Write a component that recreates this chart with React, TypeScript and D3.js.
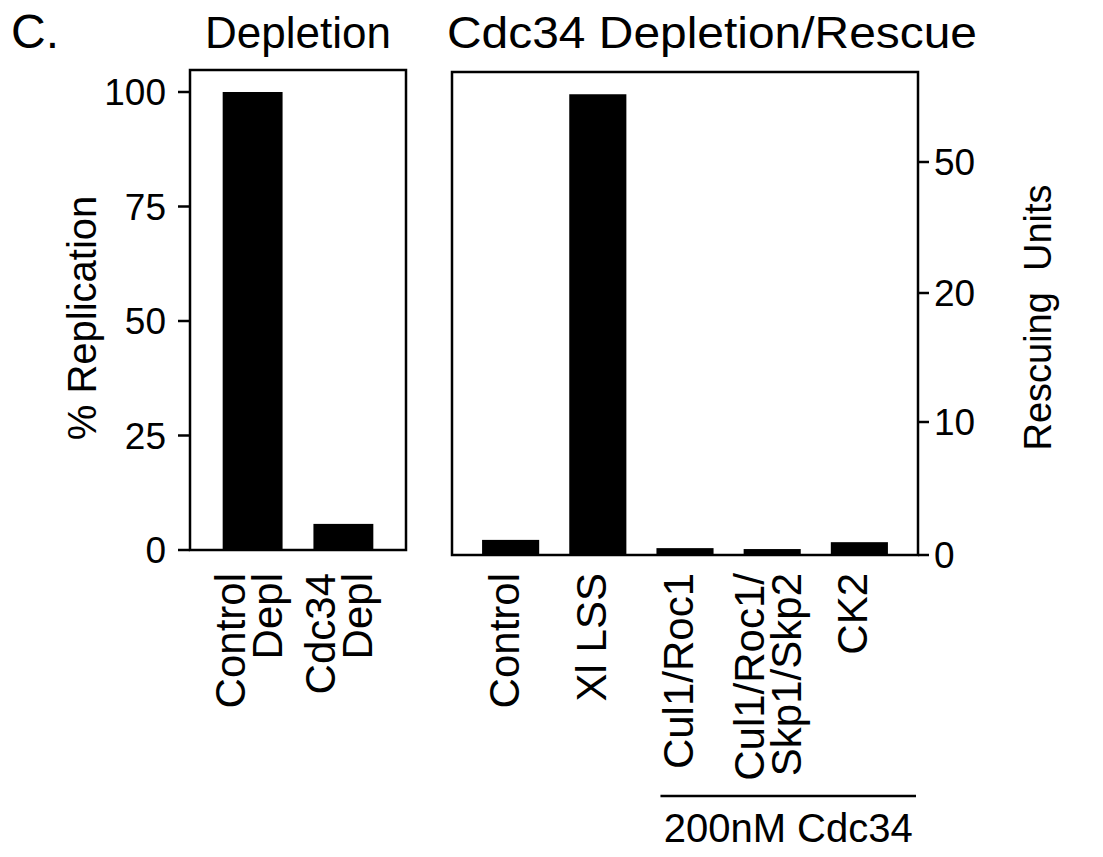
import React from "react";
import * as d3 from "d3";

const leftCategories = ["Control Depl", "Cdc34 Depl"];
const leftLabelLines = [["Control", "Depl"], ["Cdc34", "Depl"]];
const leftValues = [100, 5.7];
const leftTicks = [0, 25, 50, 75, 100];

const rightCategories = ["Control", "Xl LSS", "Cul1/Roc1", "Cul1/Roc1/Skp1/Skp2", "CK2"];
const rightLabelLines = [["Control"], ["Xl LSS"], ["Cul1/Roc1"], ["Cul1/Roc1/", "Skp1/Skp2"], ["CK2"]];
const rightValues = [3.3, 100.6, 1.5, 1.3, 2.8];
const rightTicks = [0, 10, 20, 50];

const FONT = "'Liberation Sans', Arial, Helvetica, sans-serif";

export default function App() {
  const W = 1103, H = 857;
  // left panel
  const L = { x0: 190, x1: 406, y0: 70, y1: 550 };
  const xL = d3.scaleBand<string>().domain(leftCategories).range([L.x0, L.x1]).paddingInner(0.34).paddingOuter(0.36);
  const yL = d3.scaleLinear().domain([0, 100]).range([L.y1, 92]);
  // right panel
  const R = { x0: 452, x1: 918, y0: 72, y1: 555 };
  const xR = d3.scaleBand<string>().domain(rightCategories).range([R.x0, R.x1]).paddingInner(0.345).paddingOuter(0.345);
  const yRbar = d3.scaleLinear().domain([0, 100]).range([R.y1, R.y1 - 458]);
  const yRaxis = d3.scaleLinear().domain([0, 10, 20, 50]).range([R.y1, 422, 293, 162]);

  const labelTop = 573;
  const labelFont = 42;
  const tickFont = 37;

  const renderLabels = (cats: string[], lines: string[][], x: d3.ScaleBand<string>) =>
    cats.map((c, i) => {
      const cx = (x(c) as number) + x.bandwidth() / 2;
      const ls = lines[i];
      const offs = ls.length === 1 ? [8] : [-8, 29];
      return ls.map((t, j) => (
        <text
          key={c + j}
          transform={`translate(${cx + offs[j]},${labelTop}) rotate(-90)`}
          textAnchor="end"
          fontSize={labelFont}
          fontFamily={FONT}
        >
          {t}
        </text>
      ));
    });

  const lineX0 = (xR("Cul1/Roc1") as number) + 4;
  const lineX1 = R.x1 - 2;

  return (
    <svg width={W} height={H} style={{ position: "absolute", left: 0, top: 0, background: "#fff" }}>
      <rect x={0} y={0} width={W} height={H} fill="#fff" />
      <text x={11} y={48} fontSize={48} fontFamily={FONT}>C.</text>
      <text x={(L.x0 + L.x1) / 2} y={48} textAnchor="middle" fontSize={44} fontFamily={FONT}>Depletion</text>
      <text x={447} y={48} textLength={530} lengthAdjust="spacingAndGlyphs" fontSize={45} fontFamily={FONT}>Cdc34 Depletion/Rescue</text>

      {/* left panel frame */}
      <rect x={L.x0} y={L.y0} width={L.x1 - L.x0} height={L.y1 - L.y0} fill="none" stroke="#000" strokeWidth={2.5} />
      {leftCategories.map((c, i) => (
        <rect key={c} x={xL(c)} y={yL(leftValues[i])} width={xL.bandwidth()} height={yL(0) - yL(leftValues[i])} fill="#000" />
      ))}
      {leftTicks.map((t) => (
        <g key={t}>
          <line x1={L.x0 - 12} x2={L.x0} y1={yL(t)} y2={yL(t)} stroke="#000" strokeWidth={2.5} />
          <text x={L.x0 - 24} y={yL(t)} dy="0.36em" textAnchor="end" fontSize={tickFont} fontFamily={FONT}>{t}</text>
        </g>
      ))}
      <text transform={`translate(96,${(L.y0 + L.y1) / 2 + 8}) rotate(-90)`} textAnchor="middle" fontSize={40} fontFamily={FONT}>% Replication</text>
      {renderLabels(leftCategories, leftLabelLines, xL)}

      {/* right panel frame */}
      <rect x={R.x0} y={R.y0} width={R.x1 - R.x0} height={R.y1 - R.y0} fill="none" stroke="#000" strokeWidth={2.5} />
      {rightCategories.map((c, i) => (
        <rect key={c} x={xR(c)} y={yRbar(rightValues[i])} width={xR.bandwidth()} height={yRbar(0) - yRbar(rightValues[i])} fill="#000" />
      ))}
      {rightTicks.map((t) => (
        <g key={t}>
          <line x1={R.x1} x2={R.x1 + 11} y1={yRaxis(t)} y2={yRaxis(t)} stroke="#000" strokeWidth={2.5} />
          <text x={R.x1 + 16} y={yRaxis(t)} dy="0.36em" textAnchor="start" fontSize={tickFont} fontFamily={FONT}>{t}</text>
        </g>
      ))}
      <text transform={`translate(1051,${(R.y0 + R.y1) / 2 + 4}) rotate(-90)`} textAnchor="middle" fontSize={38} fontFamily={FONT} style={{ whiteSpace: "pre" }}>{"Rescuing  Units"}</text>
      {renderLabels(rightCategories, rightLabelLines, xR)}

      <line x1={lineX0} x2={lineX1} y1={796} y2={796} stroke="#000" strokeWidth={2.5} />
      <text x={(lineX0 + lineX1) / 2} y={842} textAnchor="middle" fontSize={40} fontFamily={FONT}>200nM Cdc34</text>
    </svg>
  );
}
